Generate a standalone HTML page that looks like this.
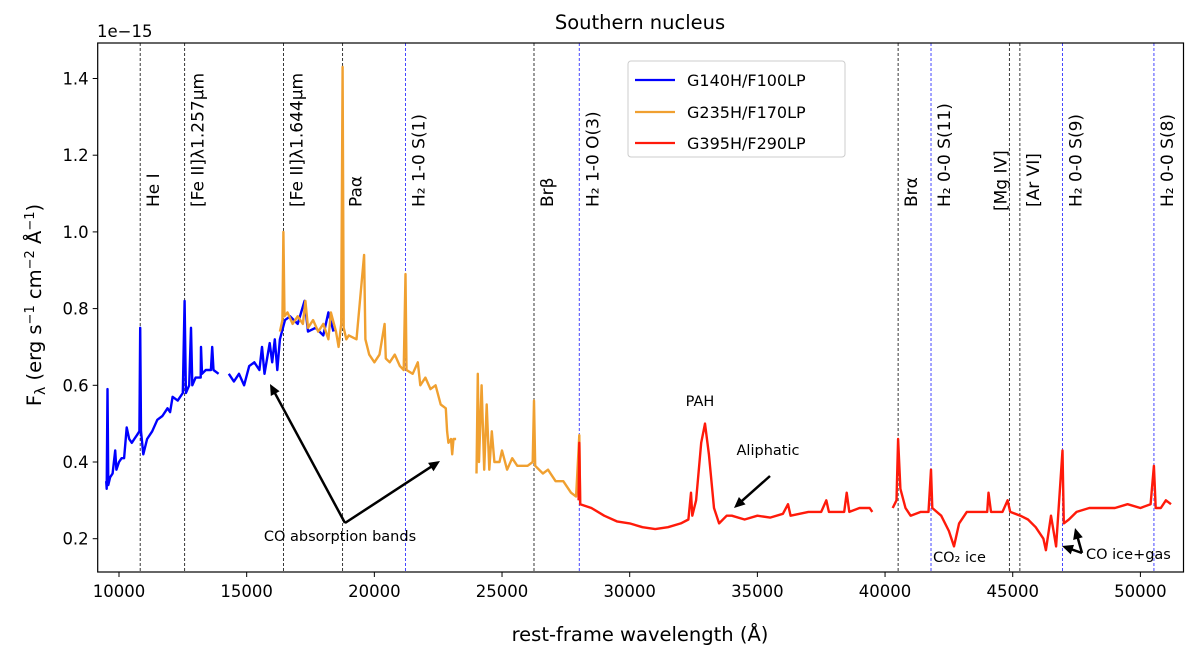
<!DOCTYPE html>
<html><head><meta charset="utf-8"><style>
body{margin:0;background:#fff;}
svg{display:block;font-family:"DejaVu Sans","Liberation Sans",sans-serif;}
</style></head><body>
<svg id="chart" width="1200" height="658" viewBox="0 0 1200 658">
<g id="plot"></g>
</svg>
<script>
const blueW=[9500,9520,9550,9580,9650,9750,9850,9900,10000,10100,10200,10300,10400,10500,10600,10700,10800,10830,10860,10950,11100,11300,11500,11700,11900,12000,12100,12300,12500,12570,12620,12750,12820,12870,13000,13200,13210,13250,13400,13600,13650,13700,13900,null,14300,14500,14700,14900,15100,15300,15500,15600,15700,15900,16000,16100,16200,16300,16500,16700,17000,17270,17400,17700,18000,18200,18400];
const blueF=[0.35,0.33,0.59,0.34,0.36,0.37,0.43,0.38,0.40,0.41,0.41,0.49,0.46,0.45,0.46,0.47,0.48,0.75,0.48,0.42,0.46,0.48,0.51,0.52,0.54,0.53,0.57,0.56,0.58,0.82,0.58,0.60,0.75,0.60,0.62,0.62,0.70,0.63,0.64,0.64,0.70,0.64,0.63,null,0.63,0.61,0.63,0.60,0.65,0.66,0.64,0.70,0.63,0.71,0.66,0.72,0.64,0.72,0.77,0.78,0.76,0.82,0.74,0.75,0.73,0.79,0.74];
const orangeW=[16300,16400,16440,16480,16600,16800,17000,17200,17300,17400,17600,17800,18000,18200,18300,18500,18600,18700,18756,18800,18900,19000,19300,19600,19650,19800,20000,20200,20400,20450,20600,20800,21000,21150,21218,21260,21500,21700,21800,22000,22200,22400,22600,22800,22850,22900,23000,23050,23100,23200,null,24000,24050,24100,24200,24300,24400,24500,24600,24700,24900,25000,25200,25400,25600,25800,26000,26200,26252,26300,26600,26800,27100,27400,27700,27900,28025,28060];
const orangeF=[0.74,0.77,1.00,0.78,0.79,0.76,0.78,0.76,0.82,0.75,0.77,0.74,0.76,0.72,0.79,0.74,0.70,0.76,1.43,0.75,0.72,0.73,0.72,0.94,0.72,0.68,0.66,0.68,0.76,0.67,0.66,0.68,0.65,0.64,0.89,0.64,0.63,0.66,0.60,0.62,0.59,0.60,0.55,0.54,0.48,0.45,0.46,0.42,0.46,0.46,null,0.37,0.63,0.40,0.60,0.38,0.55,0.38,0.48,0.40,0.40,0.43,0.38,0.41,0.39,0.39,0.39,0.40,0.56,0.39,0.37,0.38,0.35,0.35,0.32,0.31,0.47,0.29];
const redW=[28000,28025,28060,28500,29000,29500,30000,30500,31000,31500,32000,32300,32400,32450,32600,32800,32950,33100,33300,33500,33800,34000,34500,35000,35500,36000,36200,36300,37000,37500,37700,37800,38400,38500,38600,39000,39400,39500,null,40300,40450,40512,40600,40800,41000,41400,41700,41800,41850,42200,42500,42700,42900,43200,43800,44000,44050,44150,44600,44800,44900,45300,45600,45900,46200,46300,46500,46700,46950,47000,47200,47500,48000,48500,49000,49500,50000,50400,50530,50600,50800,51000,51200];
const redF=[0.30,0.45,0.29,0.28,0.26,0.245,0.24,0.23,0.225,0.23,0.24,0.25,0.32,0.26,0.30,0.45,0.50,0.42,0.28,0.24,0.26,0.26,0.25,0.26,0.255,0.265,0.29,0.26,0.27,0.27,0.30,0.27,0.27,0.32,0.27,0.28,0.28,0.27,null,0.28,0.30,0.46,0.33,0.28,0.26,0.27,0.27,0.38,0.28,0.26,0.22,0.18,0.24,0.27,0.27,0.27,0.32,0.27,0.27,0.30,0.27,0.26,0.25,0.23,0.20,0.17,0.26,0.18,0.43,0.24,0.25,0.27,0.28,0.28,0.28,0.29,0.28,0.29,0.39,0.28,0.28,0.30,0.29];
const xTicks=[10000,15000,20000,25000,30000,35000,40000,45000,50000];
const yTicks=[0.2,0.4,0.6,0.8,1.0,1.2,1.4];
const lineW=[10830,12570,16440,18756,21218,26252,28025,40512,41800,44870,45280,46950,50530];
const lineLabels=['He I','[Fe II]λ1.257μm','[Fe II]λ1.644μm','Paα','H₂ 1-0 S(1)','Brβ','H₂ 1-0 O(3)','Brα','H₂ 0-0 S(11)','[Mg IV]','[Ar VI]','H₂ 0-0 S(9)','H₂ 0-0 S(8)'];
const lineKind=['k','k','k','k','b','k','b','k','b','k','k','b','b'];

const L=97.7,R=1183.5,T=43,B=572;
const X=w=>119+(w-10000)*0.025535;
const Y=v=>78.5+(1.4-v)*383.5;
const NS='http://www.w3.org/2000/svg';
const g=document.getElementById('plot');
function mk(tag,attrs,parent){const e=document.createElementNS(NS,tag);for(const k in attrs)e.setAttribute(k,attrs[k]);(parent||g).appendChild(e);return e;}

lineW.forEach((w,i)=>{
  const ln=mk('line',{x1:X(w),x2:X(w),y1:T,y2:B,stroke:lineKind[i]==='b'?'#3333ff':'#222','stroke-width':0.9,'stroke-dasharray':'3,2'});
  
  
  const off = lineLabels[i]==='[Mg IV]' ? -3 : 19;
  const tx=X(w)+off, ty=lineLabels[i]==='[Mg IV]'?211:207;
  const t=mk('text',{x:tx,y:ty,transform:`rotate(-90 ${tx} ${ty})`,'font-size':17,fill:'#000'});
  t.textContent=lineLabels[i];
  
  
});

function path(W,F,color,name){
  let d='',pen=false;
  for(let i=0;i<W.length;i++){
    if(W[i]===null){pen=false;continue;}
    d+=(pen?'L':'M')+X(W[i]).toFixed(1)+','+Y(F[i]).toFixed(1);pen=true;
  }
  const p=mk('path',{d:d,fill:'none',stroke:color,'stroke-width':2.4,'stroke-linejoin':'round'});
  
  
}
path(blueW,blueF,'#0000ff','series-g140h');
path(orangeW,orangeF,'#f0a030','series-g235h');
path(redW,redF,'#ff1a0a','series-g395h');

const fr=mk('rect',{x:L,y:T,width:R-L,height:B-T,fill:'none',stroke:'#000','stroke-width':1.2});


xTicks.forEach(v=>{
  mk('line',{x1:X(v),x2:X(v),y1:B,y2:B+5,stroke:'#000'});
  const t=mk('text',{x:X(v),y:B+25,'font-size':16.5,'text-anchor':'middle'});
  t.textContent=v;
  
  
});
yTicks.forEach(v=>{
  mk('line',{x1:L-5,x2:L,y1:Y(v),y2:Y(v),stroke:'#000'});
  const t=mk('text',{x:L-9,y:Y(v)+6,'font-size':16.5,'text-anchor':'end'});
  t.textContent=v.toFixed(1);
  
  
});

function arrow(x1,y1,x2,y2,name){
  const a=Math.atan2(y2-y1,x2-x1),h=11,s=5;
  mk('line',{x1,y1,x2:x2-Math.cos(a)*h*0.6,y2:y2-Math.sin(a)*h*0.6,stroke:'#000','stroke-width':2.5});
  const p=mk('polygon',{points:`${x2},${y2} ${x2-h*Math.cos(a)+s*Math.sin(a)},${y2-h*Math.sin(a)-s*Math.cos(a)} ${x2-h*Math.cos(a)-s*Math.sin(a)},${y2-h*Math.sin(a)+s*Math.cos(a)}`,fill:'#000'});
  
  
}
arrow(345,523,270,384,'co-arrow-1');
arrow(345,523,440,461,'co-arrow-2');
arrow(770,476,734,508,'aliphatic-arrow');
arrow(1082,553,1062,546,'co-ice-arrow-1');
arrow(1082,553,1075,528,'co-ice-arrow-2');
</script>
<svg width="1200" height="658" style="position:absolute;left:0;top:0" font-family="DejaVu Sans, Liberation Sans, sans-serif">
<text x="640" y="29" font-size="19.5" text-anchor="middle">Southern nucleus</text>
<text x="97" y="37" font-size="16.5">1e−15</text>
<text x="640" y="641" font-size="19.5" text-anchor="middle">rest-frame wavelength (Å)</text>
<text x="41" y="305" font-size="19.5" text-anchor="middle" transform="rotate(-90 41 305)">F<tspan font-size="14" dy="4">λ</tspan><tspan dy="-4"> (erg s</tspan><tspan font-size="13" dy="-7">−1</tspan><tspan dy="7"> cm</tspan><tspan font-size="13" dy="-7">−2</tspan><tspan dy="7"> Å</tspan><tspan font-size="13" dy="-7">−1</tspan><tspan dy="7">)</tspan></text>
<text x="340" y="541" font-size="14.5" text-anchor="middle">CO absorption bands</text>
<text x="700" y="406" font-size="14.5" text-anchor="middle">PAH</text>
<text x="768" y="455" font-size="14.5" text-anchor="middle">Aliphatic</text>
<text x="933" y="562" font-size="14.5">CO₂ ice</text>
<text x="1086" y="559" font-size="14.5">CO ice+gas</text>
<g>
<rect x="628" y="61" width="217" height="96" rx="3" fill="#fff" fill-opacity="0.85" stroke="#ccc"/>
<line x1="635" x2="675" y1="80" y2="80" stroke="#0000ff" stroke-width="2.2"/>
<text x="687" y="86" font-size="16">G140H/F100LP</text>
<line x1="635" x2="675" y1="112" y2="112" stroke="#f0a030" stroke-width="2.2"/>
<text x="687" y="118" font-size="16">G235H/F170LP</text>
<line x1="635" x2="675" y1="143" y2="143" stroke="#ff1a0a" stroke-width="2.2"/>
<text x="687" y="149" font-size="16">G395H/F290LP</text>
</g>
</svg>
</body></html>
